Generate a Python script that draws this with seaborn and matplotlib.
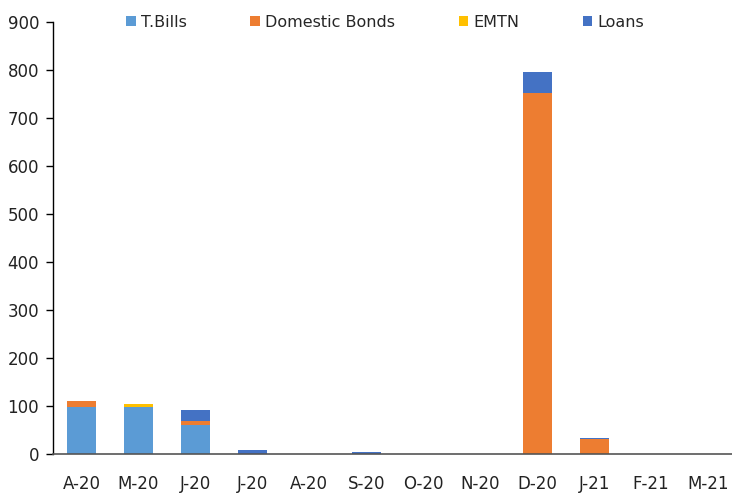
import matplotlib
matplotlib.use("Agg")
import matplotlib.pyplot as plt
import seaborn as sns
import numpy as np
import pandas as pd
from matplotlib.patches import Patch

months = ["A-20", "M-20", "J-20", "J-20 ", "A-20 ", "S-20", "O-20", "N-20", "D-20", "J-21", "F-21", "M-21"]
labels = ["A-20", "M-20", "J-20", "J-20", "A-20", "S-20", "O-20", "N-20", "D-20", "J-21", "F-21", "M-21"]
tbills = [98, 98, 61, 0, 0, 0, 0, 0, 0, 0, 0, 0]
dom_bonds = [12, 0, 8, 0, 0, 0, 0, 0, 752, 31, 0, 0]
emtn = [0, 6, 0, 0, 0, 0, 0, 0, 0, 0, 0, 0]
loans = [0, 0, 22, 9, 0, 4, 0, 0, 43, 3, 0, 0]

series = ["T.Bills", "Domestic Bonds", "EMTN", "Loans"]
colors = ["#5B9BD5", "#ED7D31", "#FFC000", "#4472C4"]

sns.set_style("white")
plt.rcParams['font.family'] = ['DejaVu Sans']

fig = plt.figure(figsize=(7.32, 4.98), dpi=100)
ax = fig.add_axes([0.0724, 0.0884, 0.9276, 0.8676])

vals = np.array([tbills, dom_bonds, emtn, loans], dtype=float)
cum = np.cumsum(vals, axis=0)
# draw from top layer down so lower layers overlay
for i in range(3, -1, -1):
    df = pd.DataFrame({"m": months, "v": cum[i]})
    sns.barplot(data=df, x="m", y="v", color=colors[i], width=0.51, ax=ax,
                saturation=1, order=months, linewidth=0, edgecolor="none")

ax.set_xlim(-0.5, 11.42)
ax.set_ylim(0, 900)
ax.set_yticks(range(0, 901, 100))
ax.set_xticks(range(12))
ax.set_xticklabels(labels, fontsize=12, color="#222222")
ax.tick_params(axis="y", labelsize=12, labelcolor="#222222", color="black",
               length=5, width=1, direction="out", left=True, pad=5)
ax.tick_params(axis="x", length=0, pad=15)
ax.set_xlabel("")
ax.set_ylabel("")
for s in ["top", "right"]:
    ax.spines[s].set_visible(False)
ax.spines["left"].set_color("black")
ax.spines["bottom"].set_color("#555555")
ax.spines["left"].set_linewidth(1)
ax.spines["bottom"].set_linewidth(1.2)

handles = [Patch(facecolor=c, edgecolor="none") for c in colors]
fig.legend(handles, series, loc="center", bbox_to_anchor=(0.526, 0.955), ncol=4,
           frameon=False, fontsize=11.5, handlelength=0.6, handleheight=0.6,
           handletextpad=0.3, columnspacing=4.0)

fig.savefig("out.png", dpi=100)
